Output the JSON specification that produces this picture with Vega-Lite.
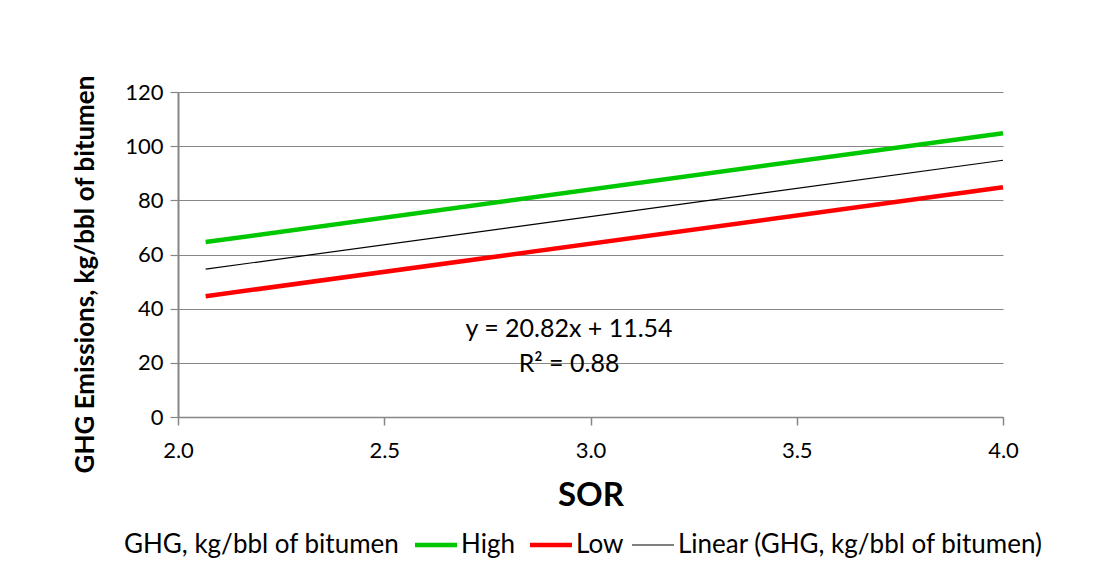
{
  "$schema": "https://vega.github.io/schema/vega-lite/v6.json",
  "width": 825,
  "height": 325,
  "autosize": {"type": "none"},
  "padding": {"left": 178, "top": 92, "right": 109, "bottom": 161},
  "background": "white",
  "config": {
    "view": {"stroke": null},
    "font": "Lato",
    "axis": {
      "labelFont": "Lato",
      "labelColor": "#000000",
      "titleFont": "Lato",
      "titleColor": "#000000",
      "domainColor": "#868686",
      "tickColor": "#868686",
      "gridColor": "#868686"
    }
  },
  "datasets": {
    "lines": [
      {"series": "High", "sor": 2.067, "ghg": 64.6},
      {"series": "High", "sor": 4.0, "ghg": 104.8},
      {"series": "Low", "sor": 2.067, "ghg": 44.6},
      {"series": "Low", "sor": 4.0, "ghg": 84.8},
      {"series": "Linear (GHG, kg/bbl of bitumen)", "sor": 2.067, "ghg": 54.6},
      {"series": "Linear (GHG, kg/bbl of bitumen)", "sor": 4.0, "ghg": 94.8}
    ],
    "note": [
      {"sor": 2.948, "ghg": 32.6, "label": "y = 20.82x + 11.54\nR² = 0.88"}
    ]
  },
  "encoding": {
    "x": {
      "field": "sor",
      "type": "quantitative",
      "scale": {"domain": [2, 4], "nice": false, "zero": false},
      "axis": {
        "title": "SOR",
        "values": [2, 2.5, 3, 3.5, 4],
        "format": ".1f",
        "grid": false,
        "domainWidth": 1.5,
        "tickSize": 8,
        "tickWidth": 1.5,
        "labelFontSize": 22,
        "labelBaseline": "alphabetic",
        "labelPadding": 32,
        "labelFlush": false,
        "titleFontSize": 33,
        "titleFontWeight": "bold",
        "titleBaseline": "alphabetic",
        "titleY": 88
      }
    },
    "y": {
      "field": "ghg",
      "type": "quantitative",
      "scale": {"domain": [0, 120], "nice": false},
      "axis": {
        "title": "GHG Emissions,  kg/bbl of bitumen",
        "values": [0, 20, 40, 60, 80, 100, 120],
        "grid": true,
        "gridWidth": 1.2,
        "domainWidth": 2,
        "tickSize": 8,
        "tickWidth": 1.2,
        "labelFontSize": 22,
        "labelPadding": 7,
        "labelFlush": false,
        "titleFontSize": 26,
        "titleFontWeight": "bold",
        "titleAngle": 270,
        "titleAlign": "center",
        "titleBaseline": "alphabetic",
        "titleX": -85,
        "titleY": 182
      }
    }
  },
  "layer": [
    {
      "data": {"name": "lines"},
      "transform": [{"filter": "datum.series !== 'Linear (GHG, kg/bbl of bitumen)'"}],
      "mark": {"type": "line", "strokeWidth": 4.5, "strokeCap": "butt"},
      "encoding": {
        "color": {
          "field": "series",
          "type": "nominal",
          "scale": {
            "domain": ["GHG, kg/bbl of bitumen", "High", "Low", "Linear (GHG, kg/bbl of bitumen)"],
            "range": ["transparent", "#00c800", "#ff0000", "#000000"]
          },
          "legend": {
            "title": null,
            "orient": "none",
            "direction": "horizontal",
            "legendX": -92,
            "legendY": 440,
            "padding": 0,
            "symbolType": "stroke",
            "symbolSize": 1764,
            "symbolStrokeWidth": 4.5,
            "labelFont": "Lato",
            "labelFontSize": 26,
            "labelColor": "#000000",
            "labelOffset": 12,
            "labelLimit": 600,
            "columnPadding": 6,
            "encode": {
              "symbols": {
                "update": {
                  "strokeWidth": {"signal": "datum.value === 'Linear (GHG, kg/bbl of bitumen)' ? 1 : 4.5"}
                }
              }
            }
          }
        },
        "detail": {"field": "series"}
      }
    },
    {
      "data": {"name": "lines"},
      "transform": [{"filter": "datum.series === 'Linear (GHG, kg/bbl of bitumen)'"}],
      "mark": {"type": "line", "strokeWidth": 1.2},
      "encoding": {
        "color": {"field": "series", "type": "nominal"}
      }
    },
    {
      "data": {"name": "note"},
      "mark": {
        "type": "text",
        "font": "Lato",
        "fontSize": 25,
        "color": "#000000",
        "align": "center",
        "baseline": "middle",
        "lineBreak": "\n",
        "lineHeight": 35
      },
      "encoding": {
        "text": {"field": "label", "type": "nominal"}
      }
    }
  ]
}
